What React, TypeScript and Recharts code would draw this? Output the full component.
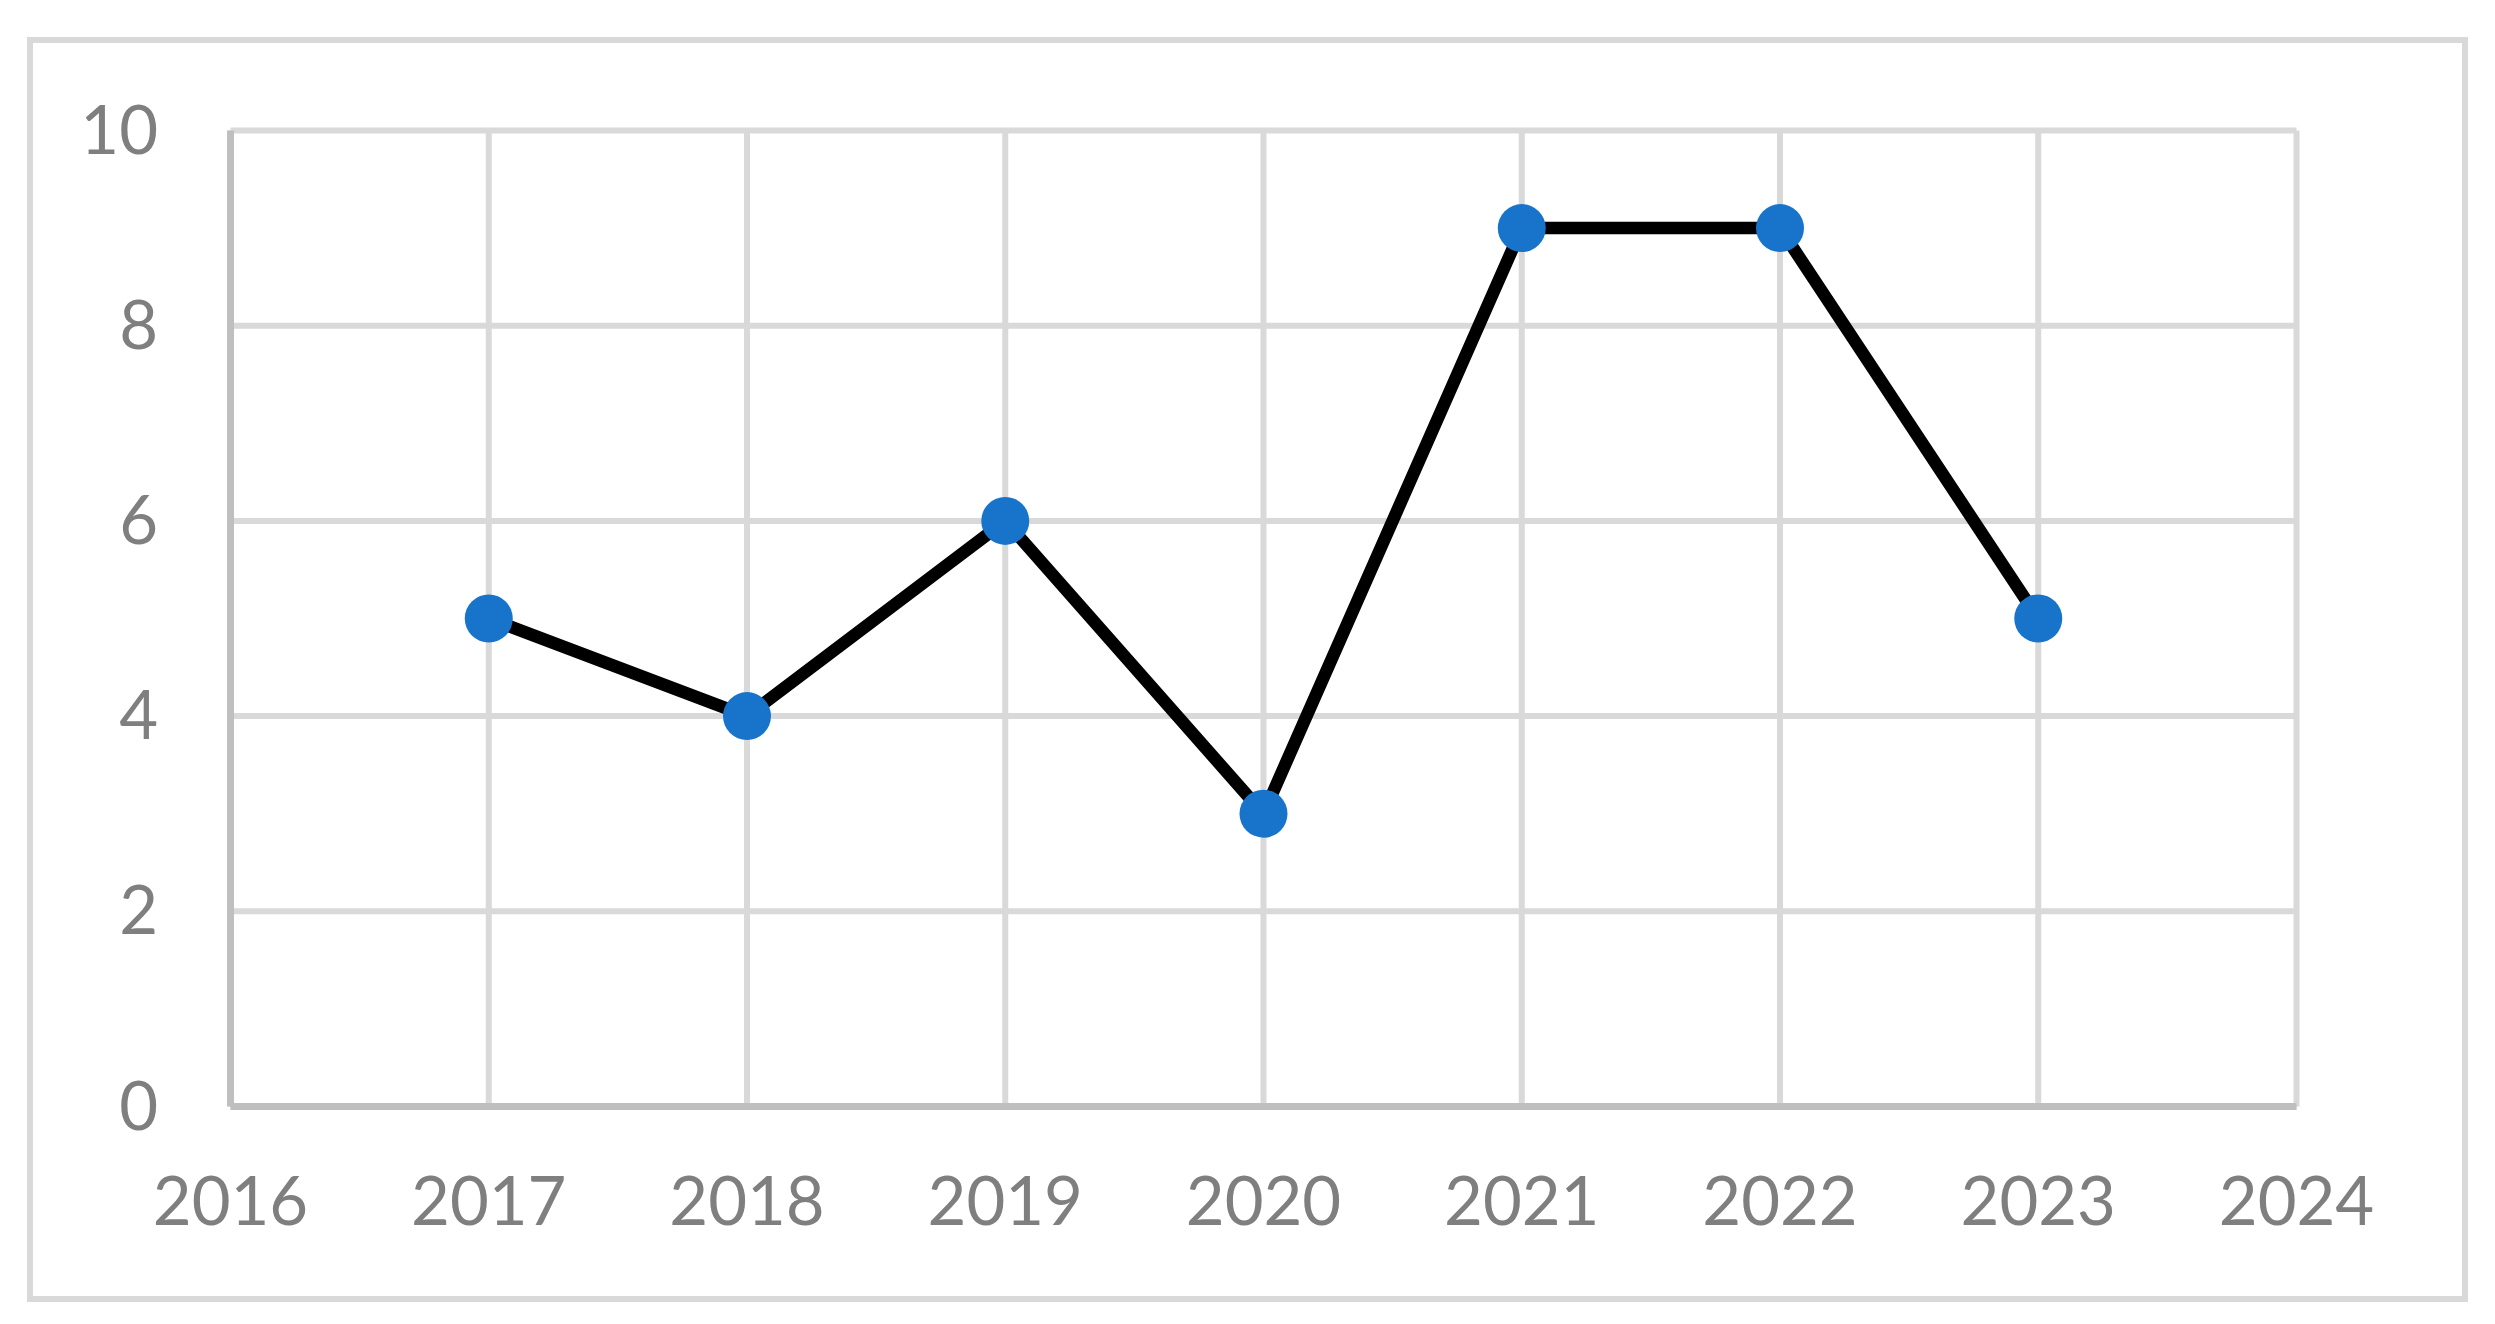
import React from "react";
import { LineChart, Line, XAxis, YAxis, CartesianGrid } from "recharts";

const years = [2017, 2018, 2019, 2020, 2021, 2022, 2023];
const values = [5, 4, 6, 3, 9, 9, 5];
const xTicks = [2016, 2017, 2018, 2019, 2020, 2021, 2022, 2023, 2024];
const yTicks = [0, 2, 4, 6, 8, 10];

const data = years.map((year, i) => ({ year, value: values[i] }));

const FONT = "Lato, 'Open Sans', sans-serif";
const TEXT_COLOR = "#7f7f7f";

const XTick = (props: any) => {
  const { x, y, payload } = props;
  return (
    <text x={x} y={y + 118.5} textAnchor="middle" fontFamily={FONT} fontSize={67} fill={TEXT_COLOR}>
      {payload.value}
    </text>
  );
};

const YTick = (props: any) => {
  const { x, y, payload } = props;
  return (
    <text x={x - 72.5} y={y + 23} textAnchor="end" fontFamily={FONT} fontSize={67} fill={TEXT_COLOR}>
      {payload.value}
    </text>
  );
};

export default function App() {
  return (
    <div style={{ position: "absolute", left: 0, top: 0, width: 2495, height: 1324, background: "#fff" }}>
      <div
        style={{
          position: "absolute",
          left: 27,
          top: 37,
          width: 2441,
          height: 1265,
          boxSizing: "border-box",
          border: "6px solid #d9d9d9",
        }}
      />
      <div style={{ position: "absolute", left: 0, top: 0 }}>
        <LineChart
          width={2495}
          height={1324}
          data={data}
          margin={{ top: 130.5, right: 198.5, left: 0, bottom: 117.5 }}
        >
          <CartesianGrid stroke="#d9d9d9" strokeWidth={6} horizontalValues={yTicks} verticalValues={xTicks} />
          <XAxis
            type="number"
            dataKey="year"
            domain={[2016, 2024]}
            ticks={xTicks}
            height={100}
            tickSize={0}
            tickMargin={0}
            tickLine={false}
            axisLine={{ stroke: "#bfbfbf", strokeWidth: 7 }}
            tick={<XTick />}
            interval={0}
          />
          <YAxis
            type="number"
            domain={[0, 10]}
            ticks={yTicks}
            width={230.5}
            tickSize={0}
            tickMargin={0}
            tickLine={false}
            axisLine={{ stroke: "#bfbfbf", strokeWidth: 7 }}
            tick={<YTick />}
            interval={0}
          />
          <Line
            type="linear"
            dataKey="value"
            stroke="#000000"
            strokeWidth={12.5}
            dot={{ r: 24, fill: "#1874CB", stroke: "none", strokeWidth: 0 }}
            activeDot={false}
            isAnimationActive={false}
          />
        </LineChart>
      </div>
    </div>
  );
}
